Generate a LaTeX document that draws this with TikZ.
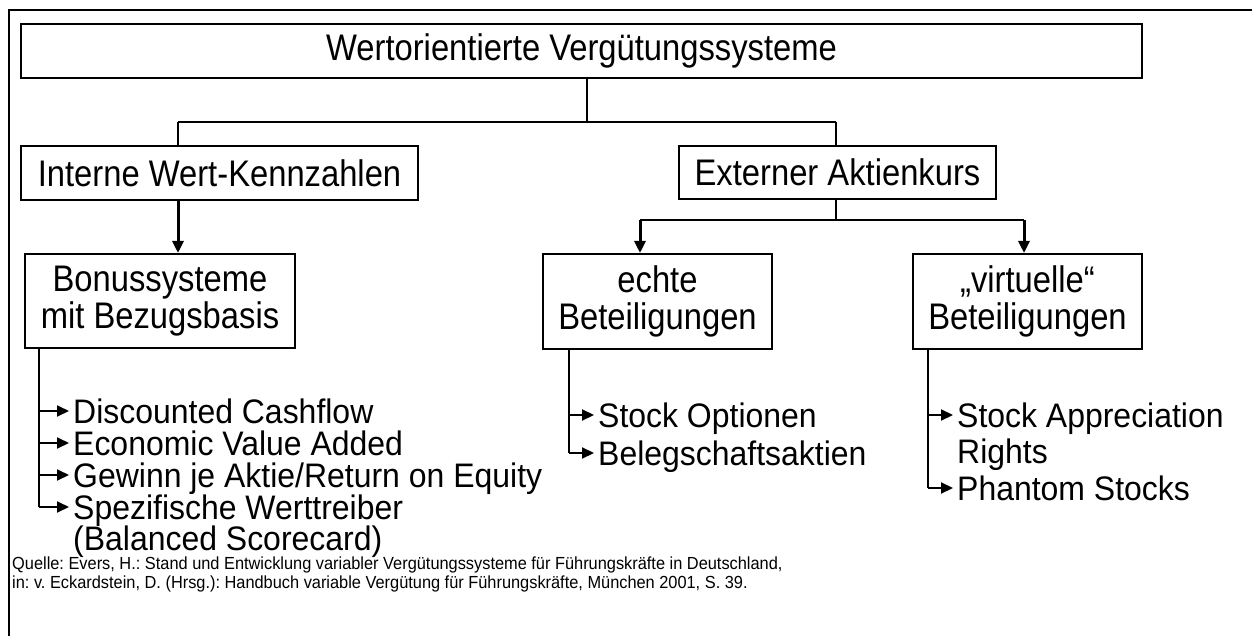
\documentclass[tikz,border=0pt]{standalone}
\usepackage{fontspec}
\setmainfont{Liberation Sans}[FakeStretch=0.885]
\newfontfamily\itemfont{Liberation Sans}[FakeStretch=0.94]
\newfontfamily\srcfont{Liberation Sans}[FakeStretch=0.935]
\usetikzlibrary{arrows.meta}
\frenchspacing
\newcommand\mainfs{\fontsize{37}{37}\selectfont}
\newcommand\itemfs{\itemfont\fontsize{34}{36}\selectfont}
\newcommand\srcfs{\srcfont\fontsize{17.5}{19}\selectfont\frenchspacing}
\begin{document}
\begin{tikzpicture}[x=1pt,y=-1pt,
  box/.style={draw, line width=2pt, inner sep=0pt, align=center, font=\mainfs, fill=white},
  item/.style={inner sep=0pt, anchor=west, font=\itemfs, text height=24pt, text depth=0pt},
  conn/.style={line width=2pt},
  bul/.style={line width=2pt, shorten >=4pt, -{Triangle[length=12pt,width=11pt]}},
  downarr/.style={line width=3pt, -{Triangle[length=12pt,width=11pt]}},
  src/.style={inner sep=0pt, anchor=west, font=\srcfs}]
\useasboundingbox (0,0) rectangle (1252,636);
\clip (0,0) rectangle (1252,636);
\fill[white] (0,0) rectangle (1252,636);
\draw[line width=2pt] (9,10) rectangle (1275,660);

% boxes
\node[box, minimum width=1121pt, minimum height=54pt] (top) at (581.5,51) {Wertorientierte Vergütungssysteme};
\node[box, minimum width=397pt, minimum height=54pt] (int) at (219.5,173) {Interne Wert-Kennzahlen};
\node[box, minimum width=317pt, minimum height=53pt] (ext) at (837.5,172.5) {Externer Aktienkurs};
\node[box, minimum width=270pt, minimum height=94pt] (bon) at (160,301) {Bonussysteme\\mit Bezugsbasis};
\node[box, minimum width=229pt, minimum height=95pt] (ech) at (657.5,301.5) {echte\\Beteiligungen};
\node[box, minimum width=229pt, minimum height=95pt] (vir) at (1027.5,301.5) {„virtuelle“\\Beteiligungen};

% tree connectors
\coordinate (j0) at (587,122);
\coordinate (jL) at (178,122);
\coordinate (jR) at (836,122);
\draw[conn] (top.south -| j0) -- (j0);
\draw[conn] (jL) -- (jR);
\draw[conn] (jL) -- (jL |- int.north);
\draw[conn] (jR) -- (jR |- ext.north);
\draw[downarr] (int.south -| jL) -- (bon.north -| jL);

\coordinate (kE) at (836,220);
\coordinate (kL) at (640,220);
\coordinate (kR) at (1024,220);
\draw[conn] (ext.south -| kE) -- (kE);
\draw[conn] (kL) -- (kR);
\draw[downarr] (kL) -- (kL |- ech.north);
\draw[downarr] (kR) -- (kR |- vir.north);

% left list
\node[item] (a1) at (73,411) {Discounted Cashflow};
\node[item] (a2) at (73,443) {Economic Value Added};
\node[item] (a3) at (73,475) {Gewinn je Aktie/Return on Equity};
\node[item] (a4) at (73,507) {Spezifische Werttreiber};
\node[item] (a5) at (73,538) {(Balanced Scorecard)};
\coordinate (av) at (39,0);
\draw[conn] (bon.south -| av) -- (a4.west -| av);
\draw[bul] (a1.west -| av) -- (a1.west);
\draw[bul] (a2.west -| av) -- (a2.west);
\draw[bul] (a3.west -| av) -- (a3.west);
\draw[bul] (a4.west -| av) -- (a4.west);

% middle list
\node[item] (b1) at (598,415) {Stock Optionen};
\node[item] (b2) at (598,453) {Belegschaftsaktien};
\coordinate (bv) at (569,0);
\draw[conn] (ech.south -| bv) -- (b2.west -| bv);
\draw[bul] (b1.west -| bv) -- (b1.west);
\draw[bul] (b2.west -| bv) -- (b2.west);

% right list
\node[item] (c1) at (957,415) {Stock Appreciation};
\node[item] (c2) at (957,451) {Rights};
\node[item] (c3) at (957,488) {Phantom Stocks};
\coordinate (cv) at (928,0);
\draw[conn] (vir.south -| cv) -- (c3.west -| cv);
\draw[bul] (c1.west -| cv) -- (c1.west);
\draw[bul] (c3.west -| cv) -- (c3.west);

% source
\node[src] (q1) at (12,565) {Quelle: Evers, H.: Stand und Entwicklung variabler Vergütungssysteme für Führungskräfte in Deutschland,};
\node[src] (q2) at (12,584) {in: v. Eckardstein, D. (Hrsg.): Handbuch variable Vergütung für Führungskräfte, München 2001, S. 39.};
\end{tikzpicture}
\end{document}
